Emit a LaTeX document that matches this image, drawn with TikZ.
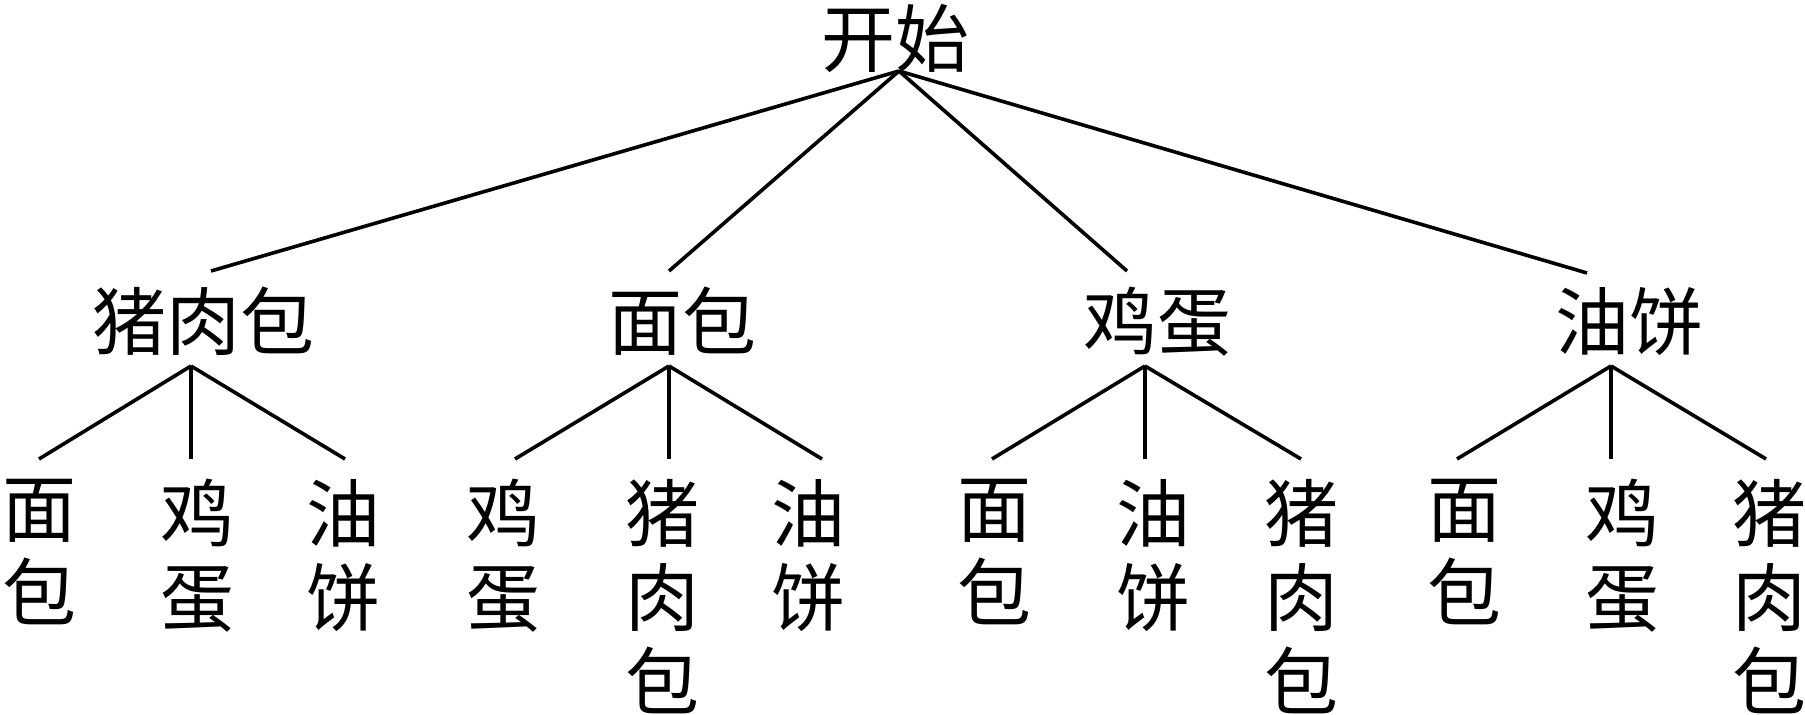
\documentclass[tikz,border=0pt]{standalone}
\usepackage{fontspec}
\newfontfamily\cjk{Noto Sans CJK SC}
\begin{document}
\begin{tikzpicture}[x=1pt,y=-1pt,
  every node/.style={inner sep=0pt},
  lbl/.style={font=\cjk\fontsize{74}{84}\selectfont},
  toplbl/.style={lbl,anchor=base},
  leaf/.style={lbl,align=center,anchor=north},
  edge/.style={line width=3.6pt}]
\useasboundingbox (0,0) rectangle (1805,715);
% root
\node[toplbl] (root) at (895,66) {开始};
\coordinate (rootb) at (899,71);
% level 1
\node[toplbl] (zr) at (203,349) {猪肉包};
\node[toplbl] (mb) at (682,349) {面包};
\node[toplbl] (jd) at (1157,349) {鸡蛋};
\node[toplbl] (yb) at (1629,349) {油饼};
\coordinate (zrT) at (211,271);
\coordinate (mbT) at (669,271);
\coordinate (jdT) at (1127,271);
\coordinate (ybT) at (1587,273);
\coordinate (zrB) at (191,366);
\coordinate (mbB) at (669,366);
\coordinate (jdB) at (1145,366);
\coordinate (ybB) at (1611,366);
% leaves
\node[leaf] (a1) at (39,479) {面\\包};
\node[leaf] (a2) at (197,479) {鸡\\蛋};
\node[leaf] (a3) at (343,479) {油\\饼};
\node[leaf] (b1) at (503,479) {鸡\\蛋};
\node[leaf] (b2) at (662,479) {猪\\肉\\包};
\node[leaf] (b3) at (808,479) {油\\饼};
\node[leaf] (c1) at (994,479) {面\\包};
\node[leaf] (c2) at (1153,479) {油\\饼};
\node[leaf] (c3) at (1301,479) {猪\\肉\\包};
\node[leaf] (d1) at (1464,479) {面\\包};
\node[leaf] (d2) at (1622,479) {鸡\\蛋};
\node[leaf] (d3) at (1769,479) {猪\\肉\\包};
\coordinate (a1T) at (39,459);
\coordinate (a2T) at (191,459);
\coordinate (a3T) at (345,459);
\coordinate (b1T) at (515,459);
\coordinate (b2T) at (669,459);
\coordinate (b3T) at (822,459);
\coordinate (c1T) at (992,459);
\coordinate (c2T) at (1145,459);
\coordinate (c3T) at (1301,459);
\coordinate (d1T) at (1457,459);
\coordinate (d2T) at (1611,459);
\coordinate (d3T) at (1766,459);
% edges
\draw[edge] (rootb) -- (zrT);
\draw[edge] (rootb) -- (mbT);
\draw[edge] (rootb) -- (jdT);
\draw[edge] (rootb) -- (ybT);
\draw[edge] (zrB) -- (a1T);
\draw[edge] (zrB) -- (a2T);
\draw[edge] (zrB) -- (a3T);
\draw[edge] (mbB) -- (b1T);
\draw[edge] (mbB) -- (b2T);
\draw[edge] (mbB) -- (b3T);
\draw[edge] (jdB) -- (c1T);
\draw[edge] (jdB) -- (c2T);
\draw[edge] (jdB) -- (c3T);
\draw[edge] (ybB) -- (d1T);
\draw[edge] (ybB) -- (d2T);
\draw[edge] (ybB) -- (d3T);
\end{tikzpicture}
\end{document}
